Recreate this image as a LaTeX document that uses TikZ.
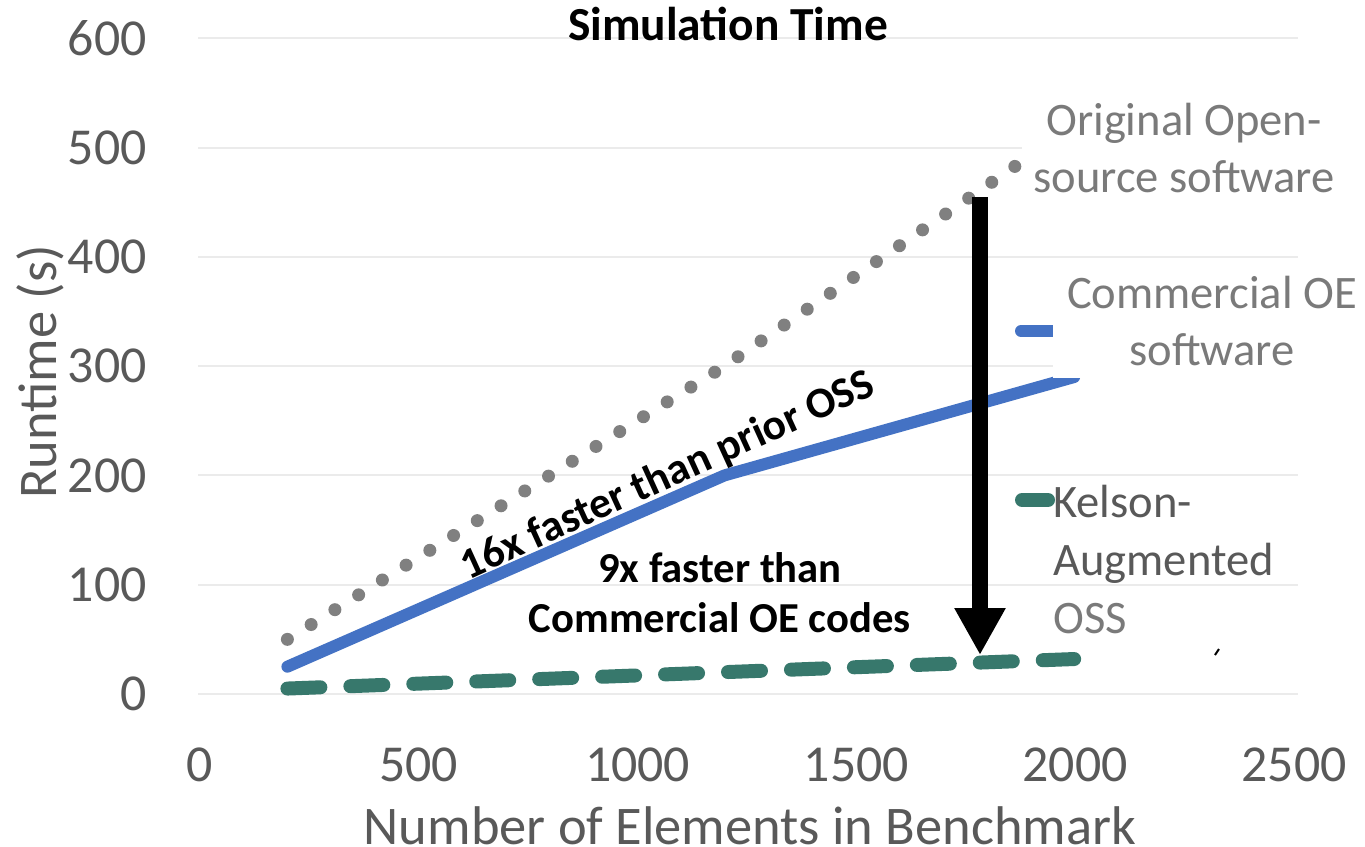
\documentclass[tikz,border=0pt]{standalone}
\usepackage{fontspec}
\setmainfont{Carlito}
\usetikzlibrary{arrows.meta}
\definecolor{axisgray}{HTML}{595959}
\definecolor{legendgray}{HTML}{7A7A7A}
\definecolor{gridgray}{HTML}{EBEBEB}
\definecolor{ossgray}{HTML}{808080}
\definecolor{oeblue}{HTML}{4472C4}
\definecolor{kelsongreen}{HTML}{37786C}

\begin{document}
\begin{tikzpicture}[x=0.02cm,y=-0.02cm,
  tick label/.style={font=\fontsize{29.5}{34}\selectfont,text=axisgray,inner sep=0pt},
  axis title/.style={font=\fontsize{31}{36}\selectfont,text=axisgray,inner sep=0pt},
  legend text/.style={font=\fontsize{26.5}{32.3}\selectfont,text=legendgray,inner sep=0pt,align=center},
  gain label/.style={inner sep=0pt,align=center},
  grid line/.style={gridgray,line width=0.04cm},
  oss line/.style={ossgray,line width=0.26cm,line cap=round,dash pattern=on 0pt off 0.56cm},
  oe line/.style={oeblue,line width=0.24cm,line cap=round,line join=round},
  kelson line/.style={kelsongreen,line width=0.28cm,line cap=round,line join=round,dash pattern=on 0.66cm off 0.6cm}]

  \useasboundingbox[fill=white] (0,0) rectangle (1365,846);

  \foreach \v [count=\i from 0] in {0,100,...,600}
    \draw[grid line] (198,694-109.3*\i) -- (1298,694-109.3*\i);
  \foreach \v [count=\i from 0] in {0,100,...,600}
    \node[tick label,anchor=east] (y tick \v) at (147,694-109.3*\i) {\v};
  \foreach \v [count=\i from 0] in {0,500,...,2500}
    \node[tick label] (x tick \v) at (200+218.8*\i,765) {\v};

  \node[axis title,rotate=90] (y title) at (40,372) {Runtime (s)};
  \node[axis title] (x title) at (750,826) {Number of Elements in Benchmark};
  \node[inner sep=0pt,font=\fontsize{27}{32}\selectfont\bfseries] (chart title) at (728,24) {Simulation Time};

  \begin{scope}[shift={(200,694)},x=0.00875cm,y=0.02186cm]
    \draw[oss line] (200,50) -- (1200,300) -- (2000,520);
    \draw[oe line] (200,25) -- (1200,200) -- (2000,290);
    \draw[kelson line] (200,5) -- (1200,20) -- (2000,32);
  \end{scope}

  \draw[oe line] (1021,331) -- (1053,331);
  \draw[kelson line,dash pattern=] (1022,500) -- (1048,500);
  \fill[white] (1022,92) rectangle (1365,205);
  \fill[white] (1053,265) rectangle (1365,378);

  \node[legend text,anchor=base] (oss entry) at (1184,192) {Original Open-\\source software};
  \node[legend text,anchor=base] (oe entry) at (1212,365) {Commercial OE\\software};
  \node[legend text,anchor=base west,align=left,text=axisgray,font=\fontsize{26.5}{32.9}\selectfont]
    (kelson entry) at (1053,633) {Kelson-\\Augmented\\\textcolor{legendgray}{OSS}};

  \node[gain label,font=\fontsize{24.8}{28}\selectfont\bfseries,rotate=24.5] (oss gain) at (668,476) {16x faster than prior OSS};
  \node[gain label,anchor=base,font=\fontsize{24.3}{28.4}\selectfont\bfseries] (oe gain) at (720,632) {9x faster than\\Commercial OE codes};

  \coordinate (arrow top) at (980,197);
  \coordinate (arrow tip) at (980,655);
  \draw[line width=0.32cm,-{Triangle[width=0.96cm,length=0.94cm]}] (arrow top) -- (arrow tip);
  \draw[line width=0.04cm] (1215,655) -- (1219,649);
\end{tikzpicture}
\end{document}
